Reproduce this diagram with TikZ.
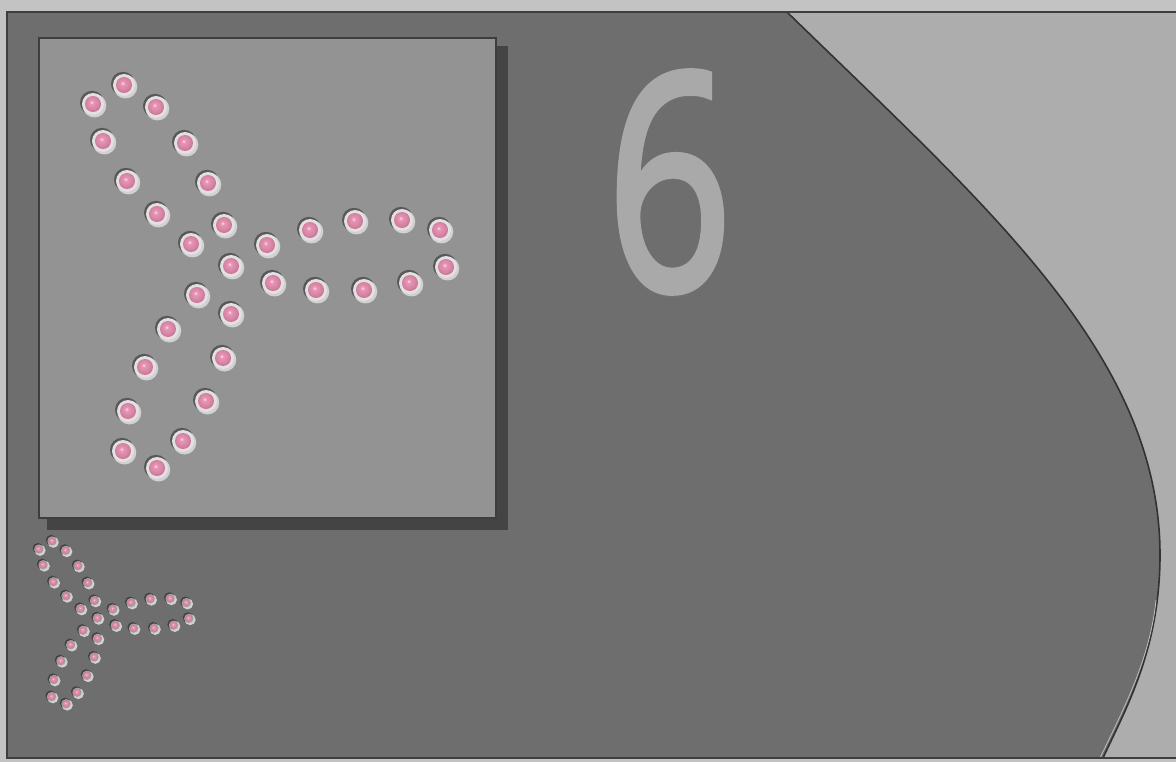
\documentclass[tikz,border=0pt]{standalone}
\usepackage{fontspec}
\newfontfamily\ziffernfont[FakeBold=2.5]{Open Sans}

\definecolor{aussen}{HTML}{C3C3C3}
\definecolor{dunkel}{HTML}{6E6E6E}
\definecolor{hell}{HTML}{ADADAD}
\definecolor{tafel}{HTML}{939393}
\definecolor{rand}{HTML}{3E3E3E}
\definecolor{schatten}{HTML}{444444}
\definecolor{ziffer}{HTML}{A9A9A9}
\definecolor{perlring}{HTML}{E4E0E1}
\definecolor{perlhell}{HTML}{FBE2EC}
\definecolor{perlrosa}{HTML}{EA93B5}
\definecolor{perldunkel}{HTML}{C76C92}

\pgfdeclareradialshading{perle}{\pgfpoint{-5bp}{6bp}}{%
  color(0bp)=(perlhell); color(6bp)=(perlrosa); color(20bp)=(perlrosa!90!black);
  color(28bp)=(perldunkel); color(50bp)=(perldunkel)}

% Perlen-Positionen (Pixel, y nach unten)
\newcommand\perlen{124/85, 93/104, 156/107, 103/141, 185/143, 127/181, 208/183,
  157/214, 224/225, 191/244, 267/245, 310/230, 355/221, 402/220, 440/230,
  231/266, 273/283, 316/290, 364/290, 410/283, 446/267, 197/295, 231/314,
  168/329, 223/358, 145/367, 206/401, 128/411, 183/441, 123/451, 157/468}

\begin{document}
\begin{tikzpicture}[
  x=1pt, y=-1pt,
  rahmen/.style={draw=rand, line width=2.5pt},
  kante/.style={draw=rand!80!black, line width=1.6pt},
  perlschatten/.style={fill=black, opacity=0.4},
  perlglanz/.style={fill=white!82!black},
  perlfassung/.style={fill=perlring},
  perlkugel/.style={shading=perle},
]
\useasboundingbox (0,0) rectangle (1176,762);

% --- Hintergrund und Rahmen ---
\fill[aussen] (0,0) rectangle (1176,762);
\fill[dunkel] (7,12) rectangle (1180,758);

% --- helle Flaeche rechts der Kurve ---
\fill[hell] (787,12) .. controls (987,207) and (1160,355) .. (1160,555)
  .. controls (1160,650) and (1125,710) .. (1103,758) -- (1180,758) -- (1180,12) -- cycle;
\draw[kante] (787,12) .. controls (987,207) and (1160,355) .. (1160,555)
  .. controls (1160,650) and (1125,710) .. (1103,758);
\draw[white!75!black, line width=0.8pt] (1156,600) .. controls (1150,660) and (1122,712) .. (1100,758);

\draw[rahmen] (7,12) rectangle (1180,758);

% --- Tafel mit Schatten ---
\fill[schatten] (47,46) rectangle (508,530);
\fill[tafel] (39,38) rectangle (496,518);
\draw[rand, line width=2pt] (39,38) rectangle (496,518);

% --- Perlen auf der Tafel ---
\foreach \px/\py in \perlen {
  \fill[perlschatten] (\px-1,\py-1.2) circle (12);
  \fill[perlglanz] (\px+1.5,\py+1.7) circle (11.8);
  \fill[perlfassung] (\px,\py) circle (11);
  \shade[perlkugel] (\px,\py) circle (8);
}

% --- kleine Kopie unten links ---
\begin{scope}[shift={(-0.7,504.9)}, scale=0.425]
\foreach \px/\py in \perlen {
  \fill[perlschatten] (\px-2,\py-2) circle (12.5);
  \fill[perlglanz] (\px+3,\py+3) circle (13);
  \fill[dunkel!55!perlring] (\px,\py) circle (11);
  \shade[perlkugel] (\px,\py) circle (8.5);
}
\end{scope}

% --- Ziffer ---
\node[text=black!55, inner sep=0pt] (zifferschatten) at (669.5,183)
  {\scalebox{0.73}[1]{\ziffernfont\fontsize{300}{300}\selectfont 6}};
\node[text=ziffer, inner sep=0pt] (ziffer) at (669.5,182)
  {\scalebox{0.73}[1]{\ziffernfont\fontsize{300}{300}\selectfont 6}};

\end{tikzpicture}
\end{document}
